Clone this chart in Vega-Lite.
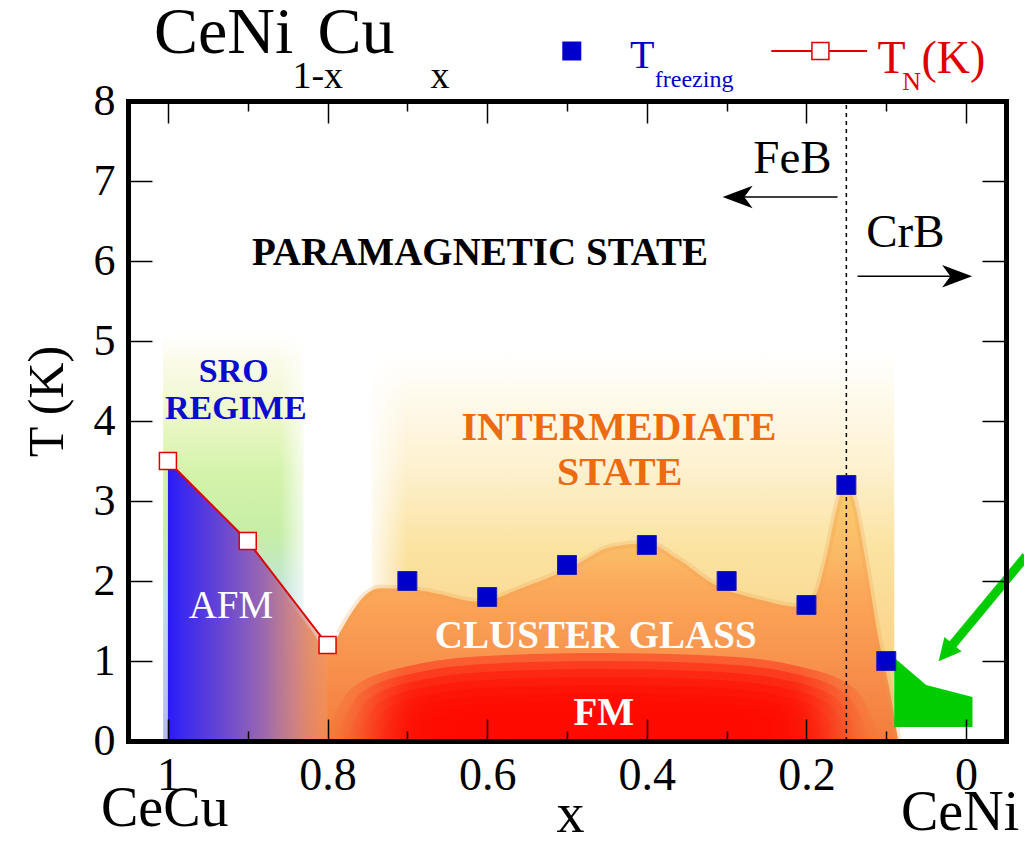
{
  "$schema": "https://vega.github.io/schema/vega-lite/v6.json",
  "width": 878,
  "height": 640,
  "autosize": {"type": "none"},
  "padding": {"left": 128, "top": 101, "right": 18, "bottom": 102},
  "background": "white",
  "config": {"view": {"stroke": null}, "font": "Liberation Serif"},
  "resolve": {"axis": {"x": "independent", "y": "independent"}},
  "layer": [
    {
      "data": {"values": [{"x": 0.745, "y": 4.9}, {"x": 0.09, "y": 4.9}]},
      "mark": {"type": "area", "color": {"gradient": "linear", "x1": 0, "y1": 0, "x2": 0, "y2": 1, "stops": [
        {"offset": 0, "color": "rgba(255,252,240,0)"},
        {"offset": 0.12, "color": "#fefaec"},
        {"offset": 0.3, "color": "#fdf1d0"},
        {"offset": 0.5, "color": "#fbe3a2"},
        {"offset": 1, "color": "#f9c878"}]}},
      "encoding": {
        "x": {"field": "x", "type": "quantitative", "scale": {"domain": [-0.05, 1.05], "reverse": true, "nice": false, "zero": false},
          "axis": {"orient": "bottom", "values": [1, 0.8, 0.6, 0.4, 0.2, 0], "format": "~g", "grid": false, "zindex": 1,
            "tickSize": -22, "tickWidth": 1.5, "tickColor": "black", "domainWidth": 5, "domainColor": "black", "domainCap": "square",
            "labelFont": "Liberation Serif", "labelFontSize": 46, "labelColor": "black", "labelPadding": 34, "labelFlush": false, "labelOverlap": false,
            "title": "x", "titleFont": "Liberation Serif", "titleFontSize": 56, "titleFontWeight": "normal", "titleColor": "black",
            "titleX": 442, "titleY": 90, "titleBaseline": "alphabetic", "titleAlign": "center"}},
        "y": {"field": "y", "type": "quantitative", "scale": {"domain": [0, 8], "nice": false, "zero": false},
          "axis": {"orient": "left", "values": [0, 1, 2, 3, 4, 5, 6, 7, 8], "format": "d", "grid": false, "zindex": 1,
            "tickSize": -24, "tickWidth": 1.5, "tickColor": "black", "domainWidth": 5, "domainColor": "black", "domainCap": "square",
            "labelFont": "Liberation Serif", "labelFontSize": 44, "labelColor": "black", "labelPadding": 37, "labelFlush": false, "labelOverlap": false,
            "title": "T (K)", "titleFont": "Liberation Serif", "titleFontSize": 50, "titleFontWeight": "normal", "titleColor": "black",
            "titleX": -66, "titleY": 300, "titleAngle": -90, "titleBaseline": "alphabetic", "titleAlign": "center"}},
        "y2": {"datum": 0}
      }
    },
    {
      "data": {"values": [{"x": 0.755, "x2": 0.7, "y": 1.8, "y2": 5.0}]},
      "mark": {"type": "rect", "fill": {"gradient": "linear", "x1": 0, "y1": 0, "x2": 1, "y2": 0, "stops": [
        {"offset": 0, "color": "rgba(255,255,255,1)"},
        {"offset": 1, "color": "rgba(255,255,255,0)"}]}},
      "encoding": {
        "x": {"field": "x", "type": "quantitative", "scale": {"domain": [-0.05, 1.05], "reverse": true, "nice": false, "zero": false}, "axis": null},
        "x2": {"field": "x2"},
        "y": {"field": "y", "type": "quantitative", "scale": {"domain": [0, 8], "nice": false, "zero": false}, "axis": null},
        "y2": {"field": "y2"}
      }
    },
    {
      "data": {"values": [{"x": 1.006, "y": 5.15}, {"x": 0.83, "y": 5.15}]},
      "mark": {"type": "area", "color": {"gradient": "linear", "x1": 0, "y1": 0, "x2": 0, "y2": 1, "stops": [
        {"offset": 0, "color": "rgba(255,255,245,0)"},
        {"offset": 0.08, "color": "#fbfae8"},
        {"offset": 0.2, "color": "#eef8cc"},
        {"offset": 0.35, "color": "#d4f3aa"},
        {"offset": 0.5, "color": "#c6eea6"},
        {"offset": 0.65, "color": "#c0e2e0"},
        {"offset": 1, "color": "#b8b8f0"}]}},
      "encoding": {
        "x": {"field": "x", "type": "quantitative", "scale": {"domain": [-0.05, 1.05], "reverse": true, "nice": false, "zero": false},
          "axis": {"orient": "bottom", "values": [0.9, 0.7, 0.5, 0.3, 0.1], "labels": false, "domain": false, "grid": false, "zindex": 1,
            "tickSize": -10, "tickWidth": 1.5, "tickColor": "black", "title": null}},
        "y": {"field": "y", "type": "quantitative", "scale": {"domain": [0, 8], "nice": false, "zero": false},
          "axis": {"orient": "right", "values": [0, 1, 2, 3, 4, 5, 6, 7, 8], "labels": false, "grid": false, "zindex": 1,
            "tickSize": -24, "tickWidth": 1.5, "tickColor": "black", "domainWidth": 5, "domainColor": "black", "domainCap": "square", "title": null}},
        "y2": {"datum": 0}
      }
    },
    {
      "data": {"values": [{"x": 0.86, "x2": 0.8, "y": 0, "y2": 5.3}]},
      "mark": {"type": "rect", "fill": {"gradient": "linear", "x1": 0, "y1": 0, "x2": 1, "y2": 0, "stops": [
        {"offset": 0, "color": "rgba(255,255,255,0)"},
        {"offset": 0.6, "color": "rgba(255,255,255,0.9)"},
        {"offset": 1, "color": "rgba(255,255,255,1)"}]}},
      "encoding": {
        "x": {"field": "x", "type": "quantitative", "scale": {"domain": [-0.05, 1.05], "reverse": true, "nice": false, "zero": false}, "axis": null},
        "x2": {"field": "x2"},
        "y": {"field": "y", "type": "quantitative", "scale": {"domain": [0, 8], "nice": false, "zero": false}, "axis": null},
        "y2": {"field": "y2"}
      }
    },
    {
      "data": {"name": "glass", "values": [
        {"x": 0.93, "y": 0}, {"x": 0.91, "y": 0.9}, {"x": 0.89, "y": 1.7}, {"x": 0.87, "y": 2.0}, {"x": 0.845, "y": 1.7}, {"x": 0.82, "y": 1.38},
        {"x": 0.8, "y": 1.12}, {"x": 0.785, "y": 1.35}, {"x": 0.77, "y": 1.6}, {"x": 0.755, "y": 1.8}, {"x": 0.734, "y": 1.91}, {"x": 0.7, "y": 1.9},
        {"x": 0.671, "y": 1.86}, {"x": 0.609, "y": 1.74}, {"x": 0.56, "y": 1.9}, {"x": 0.5, "y": 2.14},
        {"x": 0.4425, "y": 2.43}, {"x": 0.4, "y": 2.47}, {"x": 0.359, "y": 2.26}, {"x": 0.3175, "y": 1.97},
        {"x": 0.255, "y": 1.76}, {"x": 0.2125, "y": 1.68}, {"x": 0.19, "y": 1.8}, {"x": 0.175, "y": 2.3},
        {"x": 0.16, "y": 3.0}, {"x": 0.15, "y": 3.26}, {"x": 0.14, "y": 3.0}, {"x": 0.125, "y": 2.2},
        {"x": 0.11, "y": 1.3}, {"x": 0.095, "y": 0.6}, {"x": 0.085, "y": 0}]},
      "mark": {"type": "area", "interpolate": "monotone", "color": {"gradient": "linear", "x1": 0, "y1": 0, "x2": 0, "y2": 1, "stops": [
        {"offset": 0, "color": "#f9d070"},
        {"offset": 0.3, "color": "#fbb865"},
        {"offset": 0.42, "color": "#fba85a"},
        {"offset": 0.6, "color": "#f99a52"},
        {"offset": 0.8, "color": "#f68a48"},
        {"offset": 1, "color": "#f47c3c"}]}},
      "encoding": {
        "x": {"field": "x", "type": "quantitative", "scale": {"domain": [-0.05, 1.05], "reverse": true, "nice": false, "zero": false},
          "axis": {"orient": "top", "values": [0.9, 0.7, 0.5, 0.3, 0.1], "labels": false, "domain": false, "grid": false, "zindex": 1,
            "tickSize": -10, "tickWidth": 1.5, "tickColor": "black", "title": null}},
        "y": {"field": "y", "type": "quantitative", "scale": {"domain": [0, 8], "nice": false, "zero": false}, "axis": null},
        "y2": {"datum": 0}
      }
    },
    {
      "data": {"name": "glass"},
      "transform": [{"filter": "datum.x < 0.79"}],
      "mark": {"type": "line", "interpolate": "monotone", "color": "#f0a050", "strokeWidth": 7, "opacity": 0.25},
      "encoding": {
        "x": {"field": "x", "type": "quantitative", "scale": {"domain": [-0.05, 1.05], "reverse": true, "nice": false, "zero": false}, "axis": null},
        "y": {"field": "y", "type": "quantitative", "scale": {"domain": [0, 8], "nice": false, "zero": false}, "axis": null}
      }
    },
    {
      "data": {"values": [
        {"ring": 1, "x": 0.105, "y": 0}, {"ring": 1, "x": 0.14, "y": 0.66}, {"ring": 1, "x": 0.21, "y": 0.935}, {"ring": 1, "x": 0.315, "y": 1.067}, {"ring": 1, "x": 0.455, "y": 1.1}, {"ring": 1, "x": 0.595, "y": 1.067}, {"ring": 1, "x": 0.7, "y": 0.935}, {"ring": 1, "x": 0.77, "y": 0.66}, {"ring": 1, "x": 0.805, "y": 0},
        {"ring": 2, "x": 0.118, "y": 0}, {"ring": 2, "x": 0.1517, "y": 0.6}, {"ring": 2, "x": 0.2191, "y": 0.85}, {"ring": 2, "x": 0.3202, "y": 0.97}, {"ring": 2, "x": 0.455, "y": 1.0}, {"ring": 2, "x": 0.5898, "y": 0.97}, {"ring": 2, "x": 0.6909, "y": 0.85}, {"ring": 2, "x": 0.7583, "y": 0.6}, {"ring": 2, "x": 0.792, "y": 0},
        {"ring": 3, "x": 0.131, "y": 0}, {"ring": 3, "x": 0.1634, "y": 0.54}, {"ring": 3, "x": 0.2282, "y": 0.765}, {"ring": 3, "x": 0.3254, "y": 0.873}, {"ring": 3, "x": 0.455, "y": 0.9}, {"ring": 3, "x": 0.5846, "y": 0.873}, {"ring": 3, "x": 0.6818, "y": 0.765}, {"ring": 3, "x": 0.7466, "y": 0.54}, {"ring": 3, "x": 0.779, "y": 0},
        {"ring": 4, "x": 0.144, "y": 0}, {"ring": 4, "x": 0.1751, "y": 0.48}, {"ring": 4, "x": 0.2373, "y": 0.68}, {"ring": 4, "x": 0.3306, "y": 0.776}, {"ring": 4, "x": 0.455, "y": 0.8}, {"ring": 4, "x": 0.5794, "y": 0.776}, {"ring": 4, "x": 0.6727, "y": 0.68}, {"ring": 4, "x": 0.7349, "y": 0.48}, {"ring": 4, "x": 0.766, "y": 0},
        {"ring": 5, "x": 0.157, "y": 0}, {"ring": 5, "x": 0.1868, "y": 0.42}, {"ring": 5, "x": 0.2464, "y": 0.595}, {"ring": 5, "x": 0.3358, "y": 0.679}, {"ring": 5, "x": 0.455, "y": 0.7}, {"ring": 5, "x": 0.5742, "y": 0.679}, {"ring": 5, "x": 0.6636, "y": 0.595}, {"ring": 5, "x": 0.7232, "y": 0.42}, {"ring": 5, "x": 0.753, "y": 0},
        {"ring": 6, "x": 0.17, "y": 0}, {"ring": 6, "x": 0.1985, "y": 0.36}, {"ring": 6, "x": 0.2555, "y": 0.51}, {"ring": 6, "x": 0.341, "y": 0.582}, {"ring": 6, "x": 0.455, "y": 0.6}, {"ring": 6, "x": 0.569, "y": 0.582}, {"ring": 6, "x": 0.6545, "y": 0.51}, {"ring": 6, "x": 0.7115, "y": 0.36}, {"ring": 6, "x": 0.74, "y": 0},
        {"ring": 7, "x": 0.183, "y": 0}, {"ring": 7, "x": 0.2102, "y": 0.3}, {"ring": 7, "x": 0.2646, "y": 0.425}, {"ring": 7, "x": 0.3462, "y": 0.485}, {"ring": 7, "x": 0.455, "y": 0.5}, {"ring": 7, "x": 0.5638, "y": 0.485}, {"ring": 7, "x": 0.6454, "y": 0.425}, {"ring": 7, "x": 0.6998, "y": 0.3}, {"ring": 7, "x": 0.727, "y": 0},
        {"ring": 8, "x": 0.196, "y": 0}, {"ring": 8, "x": 0.2219, "y": 0.24}, {"ring": 8, "x": 0.2737, "y": 0.34}, {"ring": 8, "x": 0.3514, "y": 0.388}, {"ring": 8, "x": 0.455, "y": 0.4}, {"ring": 8, "x": 0.5586, "y": 0.388}, {"ring": 8, "x": 0.6363, "y": 0.34}, {"ring": 8, "x": 0.6881, "y": 0.24}, {"ring": 8, "x": 0.714, "y": 0}]},
      "mark": {"type": "area", "interpolate": "monotone", "opacity": 0.38, "color": {"gradient": "linear", "x1": 0, "y1": 0, "x2": 1, "y2": 0, "stops": [
        {"offset": 0, "color": "rgba(255,8,0,0)"},
        {"offset": 0.15, "color": "rgba(255,8,0,1)"},
        {"offset": 0.85, "color": "rgba(255,8,0,1)"},
        {"offset": 1, "color": "rgba(255,8,0,0)"}]}},
      "encoding": {
        "x": {"field": "x", "type": "quantitative", "scale": {"domain": [-0.05, 1.05], "reverse": true, "nice": false, "zero": false}, "axis": null},
        "y": {"field": "y", "type": "quantitative", "stack": null, "scale": {"domain": [0, 8], "nice": false, "zero": false}, "axis": null},
        "y2": {"datum": 0},
        "detail": {"field": "ring", "type": "nominal"}
      }
    },
    {
      "data": {"values": [{"x": 1.0, "y": 3.5}, {"x": 0.9, "y": 2.5}, {"x": 0.8, "y": 1.2}]},
      "mark": {"type": "area", "color": {"gradient": "linear", "x1": 0, "y1": 0, "x2": 1, "y2": 0, "stops": [
        {"offset": 0, "color": "#2a18f8"},
        {"offset": 0.08, "color": "#3a28f0"},
        {"offset": 0.35, "color": "#6a48d0"},
        {"offset": 0.6, "color": "#9a68b0"},
        {"offset": 0.8, "color": "rgba(200,130,140,0.85)"},
        {"offset": 1, "color": "rgba(240,150,100,0.45)"}]}},
      "encoding": {
        "x": {"field": "x", "type": "quantitative", "scale": {"domain": [-0.05, 1.05], "reverse": true, "nice": false, "zero": false},
          "axis": {"orient": "top", "values": [1, 0.8, 0.6, 0.4, 0.2, 0], "labels": false, "grid": false, "zindex": 1,
            "tickSize": -22, "tickWidth": 1.5, "tickColor": "black", "domainWidth": 5, "domainColor": "black", "domainCap": "square", "title": null}},
        "y": {"field": "y", "type": "quantitative", "scale": {"domain": [0, 8], "nice": false, "zero": false}, "axis": null},
        "y2": {"datum": 0}
      }
    },
    {
      "data": {"values": [{"x": 0.09, "y": 1.04}, {"x": 0.05, "y": 0.7}, {"x": -0.008, "y": 0.55}]},
      "mark": {"type": "area", "color": "#00cc00"},
      "encoding": {
        "x": {"field": "x", "type": "quantitative", "scale": {"domain": [-0.05, 1.05], "reverse": true, "nice": false, "zero": false}, "axis": null},
        "y": {"field": "y", "type": "quantitative", "scale": {"domain": [0, 8], "nice": false, "zero": false}, "axis": null},
        "y2": {"datum": 0.175}
      }
    },
    {
      "data": {"values": [{"x": -0.075, "y": 2.31, "x2": 0.0254, "y2": 1.1025}]},
      "mark": {"type": "rule", "color": "#00cc00", "strokeWidth": 9},
      "encoding": {
        "x": {"field": "x", "type": "quantitative", "scale": {"domain": [-0.05, 1.05], "reverse": true, "nice": false, "zero": false}, "axis": null},
        "x2": {"field": "x2"},
        "y": {"field": "y", "type": "quantitative", "scale": {"domain": [0, 8], "nice": false, "zero": false}, "axis": null},
        "y2": {"field": "y2"}
      }
    },
    {
      "data": {"values": [{"x": 0.0254, "y": 1.1025}]},
      "mark": {"type": "point", "shape": "M1,0L-1,-1L-1,1Z", "filled": true, "color": "#00cc00", "opacity": 1, "size": 500, "angle": 130},
      "encoding": {
        "x": {"field": "x", "type": "quantitative", "scale": {"domain": [-0.05, 1.05], "reverse": true, "nice": false, "zero": false}, "axis": null},
        "y": {"field": "y", "type": "quantitative", "scale": {"domain": [0, 8], "nice": false, "zero": false}, "axis": null}
      }
    },
    {
      "data": {"values": [{"x": 0.15}]},
      "mark": {"type": "rule", "color": "black", "strokeWidth": 1.5, "strokeDash": [4, 4]},
      "encoding": {
        "x": {"field": "x", "type": "quantitative", "scale": {"domain": [-0.05, 1.05], "reverse": true, "nice": false, "zero": false}, "axis": null},
        "y": {"datum": 0, "type": "quantitative", "scale": {"domain": [0, 8], "nice": false, "zero": false}, "axis": null},
        "y2": {"datum": 8}
      }
    },
    {
      "data": {"values": [{"x": 0.161, "x2": 0.28, "y": 6.8}, {"x": 0.136, "x2": 0.017, "y": 5.81}]},
      "mark": {"type": "rule", "color": "black", "strokeWidth": 1.5},
      "encoding": {
        "x": {"field": "x", "type": "quantitative", "scale": {"domain": [-0.05, 1.05], "reverse": true, "nice": false, "zero": false}, "axis": null},
        "x2": {"field": "x2"},
        "y": {"field": "y", "type": "quantitative", "scale": {"domain": [0, 8], "nice": false, "zero": false}, "axis": null}
      }
    },
    {
      "data": {"values": [{"x": 0.28625, "y": 6.8}]},
      "mark": {"type": "point", "shape": "M1,0L-1,-0.75L-0.45,0L-1,0.75Z", "filled": true, "color": "black", "opacity": 1, "size": 900, "angle": 180},
      "encoding": {
        "x": {"field": "x", "type": "quantitative", "scale": {"domain": [-0.05, 1.05], "reverse": true, "nice": false, "zero": false}, "axis": null},
        "y": {"field": "y", "type": "quantitative", "scale": {"domain": [0, 8], "nice": false, "zero": false}, "axis": null}
      }
    },
    {
      "data": {"values": [{"x": 0.01125, "y": 5.81}]},
      "mark": {"type": "point", "shape": "M1,0L-1,-0.75L-0.45,0L-1,0.75Z", "filled": true, "color": "black", "opacity": 1, "size": 900, "angle": 0},
      "encoding": {
        "x": {"field": "x", "type": "quantitative", "scale": {"domain": [-0.05, 1.05], "reverse": true, "nice": false, "zero": false}, "axis": null},
        "y": {"field": "y", "type": "quantitative", "scale": {"domain": [0, 8], "nice": false, "zero": false}, "axis": null}
      }
    },
    {
      "data": {"values": [{"x": 1.0, "y": 3.5}, {"x": 0.9, "y": 2.5}, {"x": 0.8, "y": 1.2}]},
      "mark": {"type": "line", "color": "#dd0000", "strokeWidth": 2},
      "encoding": {
        "x": {"field": "x", "type": "quantitative", "scale": {"domain": [-0.05, 1.05], "reverse": true, "nice": false, "zero": false}, "axis": null},
        "y": {"field": "y", "type": "quantitative", "scale": {"domain": [0, 8], "nice": false, "zero": false}, "axis": null}
      }
    },
    {
      "data": {"values": [{"x": 1.0, "y": 3.5}, {"x": 0.9, "y": 2.5}, {"x": 0.8, "y": 1.2}]},
      "mark": {"type": "point", "shape": "square", "filled": true, "fill": "white", "stroke": "#dd0000", "strokeWidth": 1.5, "opacity": 1, "size": 289},
      "encoding": {
        "x": {"field": "x", "type": "quantitative", "scale": {"domain": [-0.05, 1.05], "reverse": true, "nice": false, "zero": false}, "axis": null},
        "y": {"field": "y", "type": "quantitative", "scale": {"domain": [0, 8], "nice": false, "zero": false}, "axis": null}
      }
    },
    {
      "data": {"values": [
        {"x": 0.7, "y": 2.0}, {"x": 0.6, "y": 1.8}, {"x": 0.5, "y": 2.2}, {"x": 0.4, "y": 2.45},
        {"x": 0.3, "y": 2.0}, {"x": 0.2, "y": 1.7}, {"x": 0.15, "y": 3.2}, {"x": 0.1, "y": 1.0}]},
      "mark": {"type": "point", "shape": "square", "filled": true, "color": "#0000cc", "stroke": "#2020aa", "strokeWidth": 1, "opacity": 1, "size": 361},
      "encoding": {
        "x": {"field": "x", "type": "quantitative", "scale": {"domain": [-0.05, 1.05], "reverse": true, "nice": false, "zero": false}, "axis": null},
        "y": {"field": "y", "type": "quantitative", "scale": {"domain": [0, 8], "nice": false, "zero": false}, "axis": null}
      }
    },
    {
      "data": {"values": [{"x": 0.494, "y": 8.625}]},
      "mark": {"type": "point", "shape": "square", "filled": true, "color": "#0000cc", "opacity": 1, "size": 361},
      "encoding": {
        "x": {"field": "x", "type": "quantitative", "scale": {"domain": [-0.05, 1.05], "reverse": true, "nice": false, "zero": false}, "axis": null},
        "y": {"field": "y", "type": "quantitative", "scale": {"domain": [0, 8], "nice": false, "zero": false}, "axis": null}
      }
    },
    {
      "data": {"values": [{"x": 0.244, "x2": 0.124, "y": 8.625}]},
      "mark": {"type": "rule", "color": "#dd0000", "strokeWidth": 2},
      "encoding": {
        "x": {"field": "x", "type": "quantitative", "scale": {"domain": [-0.05, 1.05], "reverse": true, "nice": false, "zero": false}, "axis": null},
        "x2": {"field": "x2"},
        "y": {"field": "y", "type": "quantitative", "scale": {"domain": [0, 8], "nice": false, "zero": false}, "axis": null}
      }
    },
    {
      "data": {"values": [{"x": 0.1825, "y": 8.625}]},
      "mark": {"type": "point", "shape": "square", "filled": true, "fill": "white", "stroke": "#dd0000", "strokeWidth": 1.5, "opacity": 1, "size": 289},
      "encoding": {
        "x": {"field": "x", "type": "quantitative", "scale": {"domain": [-0.05, 1.05], "reverse": true, "nice": false, "zero": false}, "axis": null},
        "y": {"field": "y", "type": "quantitative", "scale": {"domain": [0, 8], "nice": false, "zero": false}, "axis": null}
      }
    },
    {
      "data": {"values": [{"t": "CeNi", "x": 1.0175, "y": 8.6}, {"t": "Cu", "x": 0.8125, "y": 8.6}]},
      "mark": {"type": "text", "font": "Liberation Serif", "fontSize": 66, "color": "black", "align": "left", "baseline": "alphabetic"},
      "encoding": {
        "x": {"field": "x", "type": "quantitative", "scale": {"domain": [-0.05, 1.05], "reverse": true, "nice": false, "zero": false}, "axis": null},
        "y": {"field": "y", "type": "quantitative", "scale": {"domain": [0, 8], "nice": false, "zero": false}, "axis": null},
        "text": {"field": "t"}
      }
    },
    {
      "data": {"values": [{"t": "1-x", "x": 0.844, "y": 8.1625}, {"t": "x", "x": 0.671, "y": 8.1625}]},
      "mark": {"type": "text", "font": "Liberation Serif", "fontSize": 38, "color": "black", "align": "left", "baseline": "alphabetic"},
      "encoding": {
        "x": {"field": "x", "type": "quantitative", "scale": {"domain": [-0.05, 1.05], "reverse": true, "nice": false, "zero": false}, "axis": null},
        "y": {"field": "y", "type": "quantitative", "scale": {"domain": [0, 8], "nice": false, "zero": false}, "axis": null},
        "text": {"field": "t"}
      }
    },
    {
      "data": {"values": [{"t": "T", "x": 0.421, "y": 8.4125}]},
      "mark": {"type": "text", "font": "Liberation Serif", "fontSize": 40, "color": "#0000cc", "align": "left", "baseline": "alphabetic"},
      "encoding": {
        "x": {"field": "x", "type": "quantitative", "scale": {"domain": [-0.05, 1.05], "reverse": true, "nice": false, "zero": false}, "axis": null},
        "y": {"field": "y", "type": "quantitative", "scale": {"domain": [0, 8], "nice": false, "zero": false}, "axis": null},
        "text": {"field": "t"}
      }
    },
    {
      "data": {"values": [{"t": "freezing", "x": 0.39, "y": 8.175}]},
      "mark": {"type": "text", "font": "Liberation Serif", "fontSize": 24, "color": "#0000cc", "align": "left", "baseline": "alphabetic"},
      "encoding": {
        "x": {"field": "x", "type": "quantitative", "scale": {"domain": [-0.05, 1.05], "reverse": true, "nice": false, "zero": false}, "axis": null},
        "y": {"field": "y", "type": "quantitative", "scale": {"domain": [0, 8], "nice": false, "zero": false}, "axis": null},
        "text": {"field": "t"}
      }
    },
    {
      "data": {"values": [{"t": "T", "x": 0.111, "y": 8.35}, {"t": "(K)", "x": 0.056, "y": 8.35}]},
      "mark": {"type": "text", "font": "Liberation Serif", "fontSize": 46, "color": "#dd0000", "align": "left", "baseline": "alphabetic"},
      "encoding": {
        "x": {"field": "x", "type": "quantitative", "scale": {"domain": [-0.05, 1.05], "reverse": true, "nice": false, "zero": false}, "axis": null},
        "y": {"field": "y", "type": "quantitative", "scale": {"domain": [0, 8], "nice": false, "zero": false}, "axis": null},
        "text": {"field": "t"}
      }
    },
    {
      "data": {"values": [{"t": "N", "x": 0.08, "y": 8.1375}]},
      "mark": {"type": "text", "font": "Liberation Serif", "fontSize": 26, "color": "#dd0000", "align": "left", "baseline": "alphabetic"},
      "encoding": {
        "x": {"field": "x", "type": "quantitative", "scale": {"domain": [-0.05, 1.05], "reverse": true, "nice": false, "zero": false}, "axis": null},
        "y": {"field": "y", "type": "quantitative", "scale": {"domain": [0, 8], "nice": false, "zero": false}, "axis": null},
        "text": {"field": "t"}
      }
    },
    {
      "data": {"values": [{"t": "PARAMAGNETIC STATE", "x": 0.609, "y": 5.95}]},
      "mark": {"type": "text", "font": "Liberation Serif", "fontSize": 39, "fontWeight": "bold", "color": "black", "align": "center", "baseline": "alphabetic"},
      "encoding": {
        "x": {"field": "x", "type": "quantitative", "scale": {"domain": [-0.05, 1.05], "reverse": true, "nice": false, "zero": false}, "axis": null},
        "y": {"field": "y", "type": "quantitative", "scale": {"domain": [0, 8], "nice": false, "zero": false}, "axis": null},
        "text": {"field": "t"}
      }
    },
    {
      "data": {"values": [{"t": "SRO", "x": 0.9175, "y": 4.4875}, {"t": "REGIME", "x": 0.915, "y": 4.025}]},
      "mark": {"type": "text", "font": "Liberation Serif", "fontSize": 34, "fontWeight": "bold", "color": "#0a0ad0", "align": "center", "baseline": "alphabetic"},
      "encoding": {
        "x": {"field": "x", "type": "quantitative", "scale": {"domain": [-0.05, 1.05], "reverse": true, "nice": false, "zero": false}, "axis": null},
        "y": {"field": "y", "type": "quantitative", "scale": {"domain": [0, 8], "nice": false, "zero": false}, "axis": null},
        "text": {"field": "t"}
      }
    },
    {
      "data": {"values": [{"t": "AFM", "x": 0.921, "y": 1.5375}]},
      "mark": {"type": "text", "font": "Liberation Serif", "fontSize": 39, "color": "white", "align": "center", "baseline": "alphabetic"},
      "encoding": {
        "x": {"field": "x", "type": "quantitative", "scale": {"domain": [-0.05, 1.05], "reverse": true, "nice": false, "zero": false}, "axis": null},
        "y": {"field": "y", "type": "quantitative", "scale": {"domain": [0, 8], "nice": false, "zero": false}, "axis": null},
        "text": {"field": "t"}
      }
    },
    {
      "data": {"values": [{"t": "INTERMEDIATE", "x": 0.435, "y": 3.7625}, {"t": "STATE", "x": 0.434, "y": 3.2}]},
      "mark": {"type": "text", "font": "Liberation Serif", "fontSize": 40, "fontWeight": "bold", "color": "#ee6a10", "align": "center", "baseline": "alphabetic"},
      "encoding": {
        "x": {"field": "x", "type": "quantitative", "scale": {"domain": [-0.05, 1.05], "reverse": true, "nice": false, "zero": false}, "axis": null},
        "y": {"field": "y", "type": "quantitative", "scale": {"domain": [0, 8], "nice": false, "zero": false}, "axis": null},
        "text": {"field": "t"}
      }
    },
    {
      "data": {"values": [{"t": "CLUSTER GLASS", "x": 0.464, "y": 1.1625}, {"t": "FM", "x": 0.454, "y": 0.2}]},
      "mark": {"type": "text", "font": "Liberation Serif", "fontSize": 39, "fontWeight": "bold", "color": "white", "align": "center", "baseline": "alphabetic"},
      "encoding": {
        "x": {"field": "x", "type": "quantitative", "scale": {"domain": [-0.05, 1.05], "reverse": true, "nice": false, "zero": false}, "axis": null},
        "y": {"field": "y", "type": "quantitative", "scale": {"domain": [0, 8], "nice": false, "zero": false}, "axis": null},
        "text": {"field": "t"}
      }
    },
    {
      "data": {"values": [{"t": "FeB", "x": 0.2175, "y": 7.1}, {"t": "CrB", "x": 0.076, "y": 6.175}]},
      "mark": {"type": "text", "font": "Liberation Serif", "fontSize": 47, "color": "black", "align": "center", "baseline": "alphabetic"},
      "encoding": {
        "x": {"field": "x", "type": "quantitative", "scale": {"domain": [-0.05, 1.05], "reverse": true, "nice": false, "zero": false}, "axis": null},
        "y": {"field": "y", "type": "quantitative", "scale": {"domain": [0, 8], "nice": false, "zero": false}, "axis": null},
        "text": {"field": "t"}
      }
    },
    {
      "data": {"values": [{"t": "CeCu", "x": 1.004, "y": -1.0625}, {"t": "CeNi", "x": 0.0075, "y": -1.11}]},
      "mark": {"type": "text", "font": "Liberation Serif", "fontSize": 56, "color": "black", "align": "center", "baseline": "alphabetic"},
      "encoding": {
        "x": {"field": "x", "type": "quantitative", "scale": {"domain": [-0.05, 1.05], "reverse": true, "nice": false, "zero": false}, "axis": null},
        "y": {"field": "y", "type": "quantitative", "scale": {"domain": [0, 8], "nice": false, "zero": false}, "axis": null},
        "text": {"field": "t"}
      }
    }
  ]
}
